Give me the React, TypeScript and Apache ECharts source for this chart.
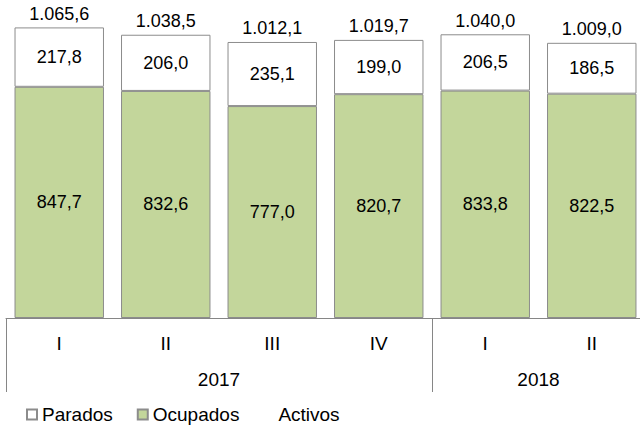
import React, { useEffect, useRef } from "react";
import * as echarts from "echarts";

const quarters = ["I", "II", "III", "IV", "I", "II"];
const yearLabels = ["2017", "2018"];
const yearLabelPos = [2, 5];
const yearBounds = [0, 4, 6];
const parados = [217.8, 206.0, 235.1, 199.0, 206.5, 186.5];
const ocupados = [847.7, 832.6, 777.0, 820.7, 833.8, 822.5];
const activos = [1065.6, 1038.5, 1012.1, 1019.7, 1040.0, 1009.0];

const FONT = "Liberation Sans, Arial, sans-serif";
const GREEN = "#C3D69B";
const BORDER = "#8C8C8C";
const AXIS = "#868686";

function fmt(v: number): string {
  const [i, d] = v.toFixed(1).split(".");
  const int = i.replace(/\B(?=(\d{3})+(?!\d))/g, ".");
  return int + "," + d;
}

export default function App() {
  const ref = useRef<HTMLDivElement>(null);
  useEffect(() => {
    if (!ref.current) return;
    const chart = echarts.init(ref.current, null, { renderer: "svg" });
    chart.setOption({
      animation: false,
      textStyle: { fontFamily: FONT },
      grid: { left: 6, top: 18, width: 639, height: 300, containLabel: false, outerBoundsMode: "none" },
      legend: {
        left: 26,
        top: 405,
        padding: 0,
        itemWidth: 10,
        itemHeight: 10,
        itemGap: 24,
        textStyle: { fontSize: 19, color: "#000", fontFamily: FONT },
        data: [
          { name: "Parados", icon: "rect" },
          { name: "Ocupados", icon: "rect" },
          { name: "Activos", icon: "rect" },
        ],
      },
      xAxis: [
        {
          type: "category",
          data: quarters,
          position: "bottom",
          axisLine: { show: true, lineStyle: { color: AXIS, width: 1 } },
          axisTick: { show: false },
          axisLabel: { fontSize: 19, color: "#000", margin: 16, fontFamily: FONT },
        },
        {
          type: "value",
          min: 0,
          max: 6,
          position: "bottom",
          axisLine: { show: false },
          splitLine: { show: false },
          axisTick: {
            show: true,
            customValues: yearBounds,
            length: 74,
            lineStyle: { color: AXIS, width: 1 },
          },
          axisLabel: {
            show: true,
            customValues: yearLabelPos,
            margin: 52,
            fontSize: 19,
            color: "#000",
            fontFamily: FONT,
            formatter: (v: number) => yearLabels[yearLabelPos.indexOf(v)] ?? "",
          },
        },
      ],
      yAxis: { type: "value", min: 0, max: 1100, show: false, splitLine: { show: false } },
      series: [
        {
          name: "Ocupados",
          type: "bar",
          stack: "a",
          xAxisIndex: 0,
          barCategoryGap: "16%",
          data: ocupados,
          itemStyle: { color: GREEN, borderColor: BORDER, borderWidth: 1 },
          label: {
            show: true,
            position: "inside",
            fontSize: 18,
            color: "#000",
            fontFamily: FONT,
            formatter: (p: any) => fmt(p.value),
          },
        },
        {
          name: "Parados",
          type: "bar",
          stack: "a",
          xAxisIndex: 0,
          barCategoryGap: "16%",
          data: parados,
          itemStyle: { color: "#FFFFFF", borderColor: BORDER, borderWidth: 1 },
          label: {
            show: true,
            position: "inside",
            fontSize: 18,
            color: "#000",
            fontFamily: FONT,
            formatter: (p: any) => fmt(p.value),
          },
        },
        {
          name: "Activos",
          type: "line",
          xAxisIndex: 0,
          data: activos,
          symbol: "circle",
          symbolSize: 1,
          itemStyle: { color: "transparent", borderWidth: 0 },
          lineStyle: { width: 0, color: "transparent" },
          label: {
            show: true,
            position: "top",
            distance: 4,
            fontSize: 18,
            color: "#000",
            fontFamily: FONT,
            formatter: (p: any) => fmt(p.value),
          },
        },
      ],
    });
    return () => chart.dispose();
  }, []);
  return (
    <div
      ref={ref}
      style={{ position: "fixed", left: 0, top: 0, width: 640, height: 428, background: "#fff" }}
    />
  );
}
